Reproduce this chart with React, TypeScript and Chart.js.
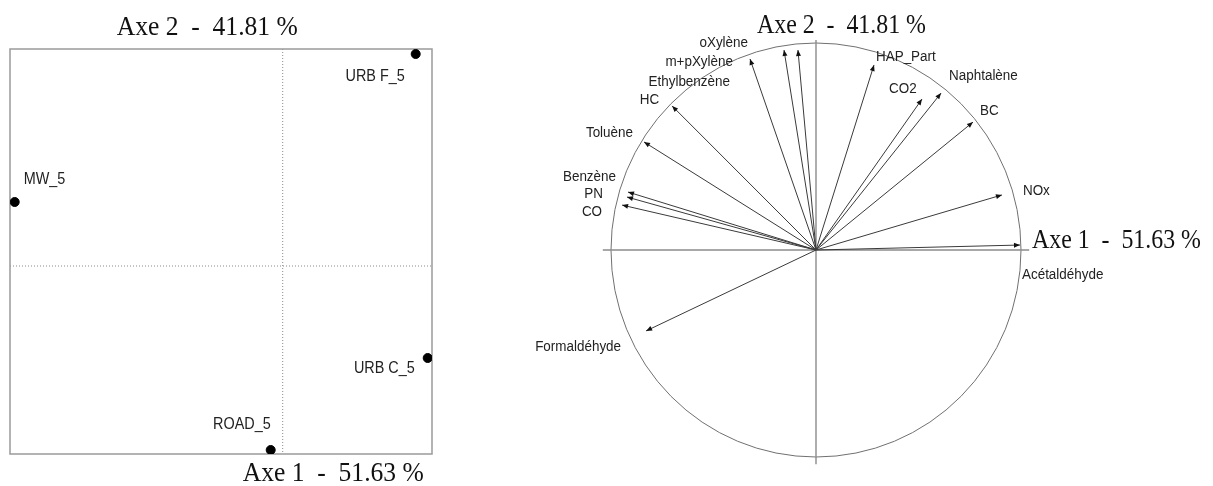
import React, { useEffect, useRef } from 'react';
import { Chart, registerables } from 'chart.js';

Chart.register(...registerables);

// ---------- Data ----------
const individuals = ['MW_5', 'URB F_5', 'URB C_5', 'ROAD_5'];
const indAxis1 = [-2.68, 1.33, 1.45, -0.12];
const indAxis2 = [0.64, 2.12, -0.92, -1.84];

const variables = [
  'oXylène', 'm+pXylène', 'Ethylbenzène', 'HC', 'Toluène', 'Benzène', 'PN', 'CO',
  'Formaldéhyde', 'Acétaldéhyde', 'NOx', 'BC', 'Naphtalène', 'CO2', 'HAP_Part',
];
const varAxis1 = [-0.156, -0.322, -0.088, -0.702, -0.839, -0.917, -0.922, -0.946, -0.829, 0.995, 0.907, 0.766, 0.61, 0.517, 0.283];
const varAxis2 = [0.966, 0.923, 0.966, 0.696, 0.522, 0.28, 0.256, 0.217, -0.391, 0.024, 0.266, 0.618, 0.758, 0.729, 0.894];

const axis1Title = 'Axe 1  -  51.63 %';
const axis2Title = 'Axe 2  -  41.81 %';

// ---------- Label placement (pixel offsets from the mark) ----------
const indLabelPlacement: [number, number, CanvasTextAlign][] = [
  [9, -22, 'left'],
  [-11, 23, 'right'],
  [-13, 11, 'right'],
  [0, -25, 'right'],
];
const varLabelPlacement: [number, number, CanvasTextAlign][] = [
  [-36, -7, 'right'],
  [-17, 3, 'right'],
  [-68, 32, 'right'],
  [-13, -6, 'right'],
  [-11, -9, 'right'],
  [-12, -15, 'right'],
  [-24, -3, 'right'],
  [-20, 7, 'right'],
  [-25, 16, 'right'],
  [2, 30, 'left'],
  [21, -4, 'left'],
  [7, -11, 'left'],
  [8, -17, 'left'],
  [-33, -10, 'left'],
  [2, -8, 'left'],
];

const SANS = '"Liberation Sans", Arial, sans-serif';
const SERIF = '"Liberation Serif", "Times New Roman", serif';

function drawText(
  ctx: CanvasRenderingContext2D,
  text: string,
  x: number,
  y: number,
  font: string,
  align: CanvasTextAlign,
  baseline: CanvasTextBaseline,
  sx: number,
  color = '#1a1a1a'
) {
  ctx.save();
  ctx.translate(x, y);
  ctx.scale(sx, 1);
  ctx.font = font;
  ctx.fillStyle = color;
  ctx.textAlign = align;
  ctx.textBaseline = baseline;
  ctx.fillText(text, 0, 0);
  ctx.restore();
}

const scorePlugin = {
  id: 'scorePlugin',
  beforeDatasetsDraw(chart: any) {
    const { ctx, chartArea, scales } = chart;
    const x0 = scales.x.getPixelForValue(0);
    const y0 = scales.y.getPixelForValue(0);
    ctx.save();
    ctx.strokeStyle = '#8a8a8a';
    ctx.lineWidth = 1;
    ctx.setLineDash([1, 2]);
    ctx.beginPath();
    ctx.moveTo(x0, chartArea.top);
    ctx.lineTo(x0, chartArea.bottom);
    ctx.moveTo(chartArea.left, y0);
    ctx.lineTo(chartArea.right, y0);
    ctx.stroke();
    ctx.setLineDash([]);
    ctx.strokeStyle = '#9a9a9a';
    ctx.lineWidth = 1.5;
    ctx.strokeRect(chartArea.left, chartArea.top, chartArea.right - chartArea.left, chartArea.bottom - chartArea.top);
    ctx.restore();
  },
  afterDatasetsDraw(chart: any) {
    const { ctx, chartArea, scales } = chart;
    const x0 = scales.x.getPixelForValue(0);
    individuals.forEach((name, i) => {
      const px = scales.x.getPixelForValue(indAxis1[i]);
      const py = scales.y.getPixelForValue(indAxis2[i]);
      const [dx, dy, align] = indLabelPlacement[i];
      drawText(ctx, name, px + dx, py + dy, `16px ${SANS}`, align, 'middle', 0.9, '#222');
    });
    drawText(ctx, axis2Title, x0 - 166, chartArea.top - 14, `27.5px ${SERIF}`, 'left', 'alphabetic', 0.93, '#111');
    drawText(ctx, axis1Title, x0 - 40, chartArea.bottom + 27, `27.5px ${SERIF}`, 'left', 'alphabetic', 0.93, '#111');
  },
};

const circlePlugin = {
  id: 'circlePlugin',
  beforeDatasetsDraw(chart: any) {
    const { ctx, scales } = chart;
    const cx = scales.x.getPixelForValue(0);
    const cy = scales.y.getPixelForValue(0);
    const rx = scales.x.getPixelForValue(1) - cx;
    const ry = cy - scales.y.getPixelForValue(1);
    ctx.save();
    ctx.strokeStyle = '#707070';
    ctx.lineWidth = 1;
    ctx.beginPath();
    ctx.ellipse(cx, cy, rx, ry, 0, 0, Math.PI * 2);
    ctx.stroke();
    ctx.strokeStyle = '#8c8c8c';
    ctx.lineWidth = 1.4;
    ctx.beginPath();
    ctx.moveTo(scales.x.getPixelForValue(-1.04), cy);
    ctx.lineTo(scales.x.getPixelForValue(1.04), cy);
    ctx.moveTo(cx, scales.y.getPixelForValue(1.015));
    ctx.lineTo(cx, scales.y.getPixelForValue(-1.035));
    ctx.stroke();
    ctx.restore();
  },
  afterDatasetsDraw(chart: any) {
    const { ctx, scales } = chart;
    const cx = scales.x.getPixelForValue(0);
    const cy = scales.y.getPixelForValue(0);
    ctx.save();
    ctx.fillStyle = '#111';
    variables.forEach((name, i) => {
      const tx = scales.x.getPixelForValue(varAxis1[i]);
      const ty = scales.y.getPixelForValue(varAxis2[i]);
      const a = Math.atan2(ty - cy, tx - cx);
      const L = 6;
      const W = 2.5;
      const bx = tx - L * Math.cos(a);
      const by = ty - L * Math.sin(a);
      ctx.beginPath();
      ctx.moveTo(tx, ty);
      ctx.lineTo(bx - W * Math.sin(a), by + W * Math.cos(a));
      ctx.lineTo(bx + W * Math.sin(a), by - W * Math.cos(a));
      ctx.closePath();
      ctx.fill();
      const [dx, dy, align] = varLabelPlacement[i];
      drawText(ctx, name, tx + dx, ty + dy, `14px ${SANS}`, align, 'middle', 0.96, '#222');
    });
    ctx.restore();
    drawText(ctx, axis2Title, cx - 59, scales.y.getPixelForValue(1.05), `26.5px ${SERIF}`, 'left', 'alphabetic', 0.9, '#111');
    drawText(ctx, axis1Title, cx + 216, cy - 2, `26.5px ${SERIF}`, 'left', 'alphabetic', 0.9, '#111');
  },
};

export default function App() {
  const ref1 = useRef<HTMLCanvasElement>(null);
  const ref2 = useRef<HTMLCanvasElement>(null);

  useEffect(() => {
    const c1 = new Chart(ref1.current!, {
      type: 'scatter',
      data: {
        datasets: [
          {
            data: individuals.map((_, i) => ({ x: indAxis1[i], y: indAxis2[i] })),
            backgroundColor: '#000',
            borderColor: '#000',
            pointRadius: 4.5,
            pointHoverRadius: 4.5,
          },
        ],
      },
      options: {
        responsive: false,
        animation: false,
        devicePixelRatio: 1,
        layout: { padding: { left: 10, right: 68, top: 49, bottom: 32 } },
        plugins: { legend: { display: false }, tooltip: { enabled: false } },
        scales: {
          x: { type: 'linear', min: -2.727, max: 1.493, display: false },
          y: { type: 'linear', min: -1.88, max: 2.17, display: false },
        },
      },
      plugins: [scorePlugin],
    });

    const c2 = new Chart(ref2.current!, {
      type: 'scatter',
      data: {
        datasets: variables.map((name, i) => ({
          label: name,
          data: [
            { x: 0, y: 0 },
            { x: varAxis1[i], y: varAxis2[i] },
          ],
          showLine: true,
          borderColor: '#3a3a3a',
          borderWidth: 1,
          pointRadius: 0,
          pointHoverRadius: 0,
        })),
      },
      options: {
        responsive: false,
        animation: false,
        devicePixelRatio: 1,
        layout: { padding: { left: 70, right: 151, top: 22.3, bottom: 8.3 } },
        plugins: { legend: { display: false }, tooltip: { enabled: false } },
        scales: {
          x: { type: 'linear', min: -1.2, max: 1.2, display: false },
          y: { type: 'linear', min: -1.1, max: 1.1, display: false },
        },
      },
      plugins: [circlePlugin],
    });

    return () => {
      c1.destroy();
      c2.destroy();
    };
  }, []);

  return (
    <div style={{ position: 'fixed', left: 0, top: 0, width: 1213, height: 486, background: '#fff' }}>
      <canvas ref={ref1} width={500} height={486} style={{ position: 'absolute', left: 0, top: 0, width: 500, height: 486 }} />
      <canvas ref={ref2} width={713} height={486} style={{ position: 'absolute', left: 500, top: 0, width: 713, height: 486 }} />
    </div>
  );
}
